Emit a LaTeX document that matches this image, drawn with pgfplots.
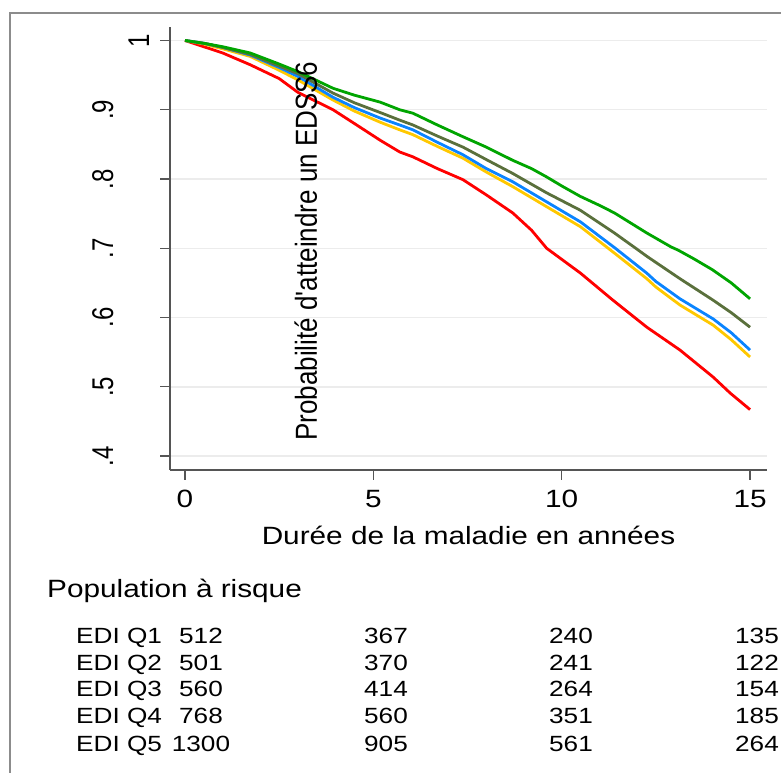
\documentclass[border=0pt]{standalone}
\usepackage{pgfplots}
\pgfplotsset{compat=1.18}
\usepackage{graphicx}
\usepackage{fontspec}
\setmainfont{Liberation Sans}[FakeStretch=1.19]
\newfontfamily\rotfont{Liberation Sans}
\newcommand\hf{\fontsize{25bp}{30bp}\selectfont}
\newcommand\tf{\fontsize{22bp}{26bp}\selectfont}
\newcommand\ytl[1]{{\rotfont\fontsize{24bp}{28bp}\selectfont\scalebox{1}[1.25]{#1}}}
\definecolor{axgray}{RGB}{85,85,85}
\definecolor{gridgray}{RGB}{236,236,236}
\definecolor{framegray}{RGB}{140,140,140}
\definecolor{cgreen}{RGB}{0,165,0}
\definecolor{colive}{RGB}{90,112,60}
\definecolor{cblue}{RGB}{10,132,255}
\definecolor{cyellow}{RGB}{255,200,0}
\definecolor{cred}{RGB}{255,0,0}

\pgfplotstableread{
x y
0 1.000
0.5 0.996
1.0 0.991
1.73 0.982
2.5 0.966
3.0 0.955
3.93 0.931
4.5 0.921
5.18 0.911
5.7 0.900
6.05 0.895
6.7 0.878
7.38 0.861
8.0 0.846
8.7 0.827
9.2 0.815
9.6 0.803
10.0 0.790
10.49 0.775
11.0 0.762
11.4 0.751
12.26 0.722
12.9 0.702
13.1 0.697
13.5 0.685
14.0 0.669
14.5 0.650
15.0 0.627
}\tgreen

\pgfplotstableread{
x y
0 1.000
0.5 0.996
1.0 0.990
1.73 0.980
2.5 0.963
3.0 0.952
3.93 0.924
4.5 0.910
5.18 0.896
5.7 0.885
6.05 0.878
6.7 0.862
7.38 0.846
8.0 0.828
8.7 0.808
9.6 0.780
10.49 0.755
11.4 0.722
11.99 0.699
12.27 0.688
13.14 0.656
14.02 0.625
14.5 0.607
15.0 0.586
}\tolive

\pgfplotstableread{
x y
0 1.000
0.5 0.996
1.0 0.990
1.73 0.979
2.5 0.961
3.0 0.948
3.93 0.918
4.5 0.903
5.18 0.888
5.7 0.878
6.05 0.871
6.7 0.853
7.38 0.835
8.0 0.815
8.7 0.796
9.6 0.767
10.5 0.738
11.4 0.701
12.26 0.664
12.5 0.652
13.14 0.627
14.02 0.598
14.5 0.578
15.0 0.553
}\tblue

\pgfplotstableread{
x y
0 1.000
0.5 0.995
1.0 0.988
1.73 0.977
2.5 0.957
3.0 0.943
3.93 0.914
4.5 0.898
5.18 0.882
5.7 0.871
6.05 0.864
6.7 0.847
7.38 0.830
8.0 0.810
8.7 0.789
9.6 0.760
10.5 0.731
11.4 0.693
12.26 0.656
12.5 0.644
13.14 0.618
14.02 0.589
14.5 0.568
15.0 0.543
}\tyellow

\pgfplotstableread{
x y
0 1.000
0.5 0.991
1.0 0.982
1.73 0.965
2.5 0.945
3.0 0.925
3.93 0.900
4.5 0.880
5.18 0.856
5.7 0.839
6.05 0.832
6.7 0.815
7.38 0.799
8.0 0.777
8.7 0.751
9.2 0.726
9.6 0.700
10.0 0.684
10.5 0.664
11.36 0.625
12.26 0.586
13.14 0.553
14.02 0.514
14.47 0.491
15.0 0.467
}\tred

\begin{document}
\begin{tikzpicture}
\path[use as bounding box] (0,0) rectangle (781bp,773bp);
\draw[framegray, line width=2bp] (9.5bp,0) -- (9.5bp,759.5bp) -- (781bp,759.5bp);
\begin{axis}[
  at={(170bp,303bp)}, anchor=south west,
  scale only axis, width=597bp, height=443bp,
  xmin=-0.398, xmax=15.45, ymin=0.3798, ymax=1.0195,
  axis x line*=bottom, axis y line*=left,
  axis line style={-, draw=axgray, line width=1.3bp},
  xtick={0,5,10,15},
  ytick={0.4,0.5,0.6,0.7,0.8,0.9,1},
  yticklabels={\ytl{.4},\ytl{.5},\ytl{.6},\ytl{.7},\ytl{.8},\ytl{.9},\raisebox{-36bp}{\ytl{1}}},
  tick align=outside, major tick length=10bp,
  every tick/.style={draw=axgray, line width=1.3bp},
  ymajorgrids, grid style={draw=gridgray, line width=1.5bp},
  /pgf/number format/assume math mode=true,
  xticklabel style={font=\hf, anchor=base, inner sep=0pt, yshift=-28bp},
  yticklabel style={xshift=-47bp, anchor=base, rotate=90, inner sep=0pt},
  xlabel={Durée de la maladie en années},
  ylabel={\rotfont\fontsize{26bp}{30bp}\selectfont\scalebox{1}[1.17]{Probabilité d'atteindre un EDSS6}},
  every axis x label/.style={at={(rel axis cs:0.5,-0.1693)}, anchor=base, font=\hf, inner sep=0pt},
  every axis y label/.style={at={(rel axis cs:0.2462,0.494)}, anchor=base, rotate=90, inner sep=0pt},
  clip=false,
]
\addplot[cred, line width=2.8bp] table[x=x,y=y] {\tred};
\addplot[cyellow, line width=2.8bp] table[x=x,y=y] {\tyellow};
\addplot[cblue, line width=2.8bp] table[x=x,y=y] {\tblue};
\addplot[colive, line width=2.8bp] table[x=x,y=y] {\tolive};
\addplot[cgreen, line width=2.8bp] table[x=x,y=y] {\tgreen};
\end{axis}
\node[anchor=base west, font=\hf, inner sep=0pt] at (47bp,175bp) {Population à risque};
\foreach \lab/\a/\b/\c/\d/\yy in {EDI Q1/512/367/240/135/129, EDI Q2/501/370/241/122/102, EDI Q3/560/414/264/154/76, EDI Q4/768/560/351/185/49, EDI Q5/1300/905/561/264/22}{
  \node[anchor=base west, font=\tf, inner sep=0pt] at (76bp,\yy bp) {\lab};
  \node[anchor=base, font=\tf, inner sep=0pt] at (201bp,\yy bp) {\a};
  \node[anchor=base, font=\tf, inner sep=0pt] at (386bp,\yy bp) {\b};
  \node[anchor=base, font=\tf, inner sep=0pt] at (571bp,\yy bp) {\c};
  \node[anchor=base, font=\tf, inner sep=0pt] at (757bp,\yy bp) {\d};
}
\end{tikzpicture}
\end{document}
